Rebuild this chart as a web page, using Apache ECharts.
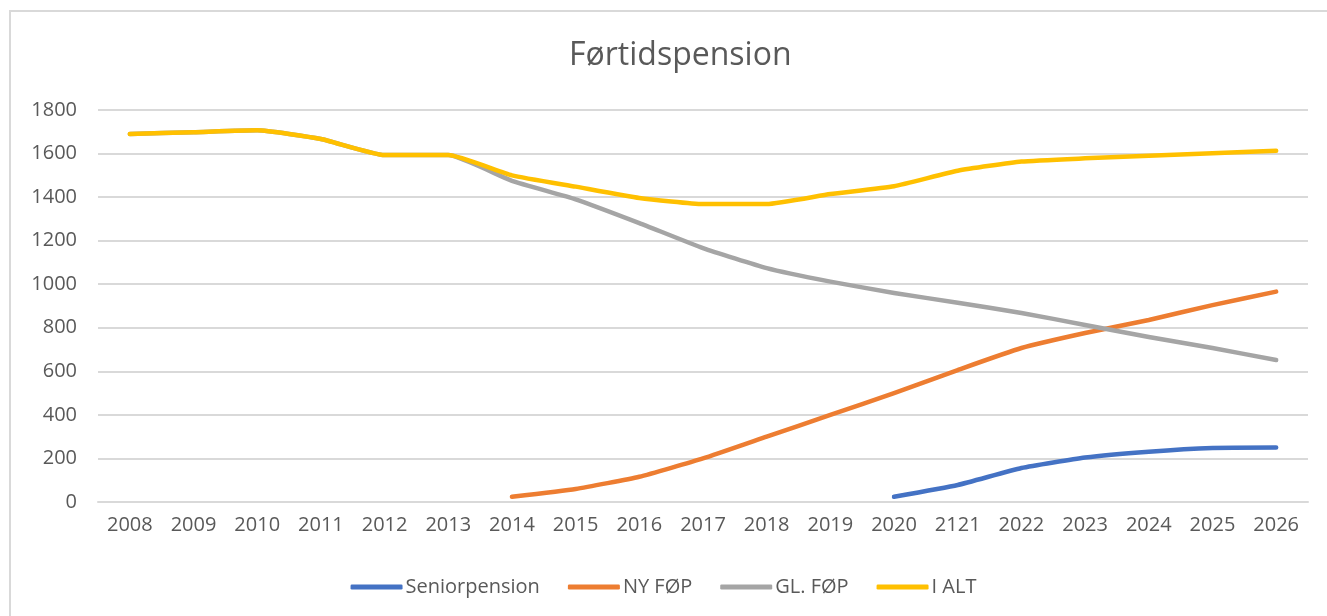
<!DOCTYPE html>
<html>
<head>
<meta charset="utf-8">
<script src="https://cdn.jsdelivr.net/npm/echarts@6/dist/echarts.min.js"></script>
<style>
html,body{margin:0;padding:0;background:#fff;}
#c{width:1327px;height:616px;}
</style>
</head>
<body>
<div id="c"></div>
<script>
const categories = ['2008','2009','2010','2011','2012','2013','2014','2015','2016','2017','2018','2019','2020','2121','2022','2023','2024','2025','2026'];
const seniorpension = [null,null,null,null,null,null,null,null,null,null,null,null,24,78,156,204,231,248,250];
const nyFop = [null,null,null,null,null,null,24,60,116,200,300,400,500,606,707,776,836,904,966];
const glFop = [1690,1698,1707,1667,1593,1593,1475,1390,1281,1166,1074,1012,960,915,868,813,758,707,652];
const iAlt = [1690,1698,1707,1667,1593,1593,1500,1448,1396,1368,1368,1414,1450,1521,1563,1578,1590,1601,1613];
const yTicks = {min:0, max:1800, interval:200};

const FONT = '"Open Sans", sans-serif';
const chart = echarts.init(document.getElementById('c'), null, {renderer:'canvas'});
function line(name, data, color){
  return {name, type:'line', data, showSymbol:false, symbol:'none', smooth:0.15,
    lineStyle:{color, width:4.5, cap:'round', join:'round'}, itemStyle:{color},
    connectNulls:false, animation:false};
}
chart.setOption({
  animation:false,
  backgroundColor:'#fff',
  graphic:[{type:'rect', shape:{x:10,y:11,width:1330,height:620}, style:{fill:'none', stroke:'#d9d9d9', lineWidth:2}, silent:true}],
  title:{text:'Førtidspension', left:564, top:35, textStyle:{fontFamily:FONT, fontSize:32, fontWeight:'normal', color:'#595959'}},
  grid:{left:98, right:19, top:110, bottom:114, containLabel:false},
  legend:{top:572, left:'center', itemWidth:52, itemHeight:5, itemGap:28, icon:'roundRect',
    textStyle:{fontFamily:FONT, fontSize:20, color:'#595959', padding:[0,0,0,-2]},
    data:['Seniorpension','NY FØP','GL. FØP','I ALT']},
  xAxis:{type:'category', data:categories, boundaryGap:true,
    axisLine:{show:true, lineStyle:{color:'#d9d9d9', width:2}}, axisTick:{show:false},
    axisLabel:{fontFamily:FONT, fontSize:20, color:'#595959', margin:13, interval:0}},
  yAxis:{type:'value', min:yTicks.min, max:yTicks.max, interval:yTicks.interval,
    axisLine:{show:false}, axisTick:{show:false},
    splitLine:{lineStyle:{color:'#d9d9d9', width:2}},
    axisLabel:{fontFamily:FONT, fontSize:20, color:'#595959', margin:21, formatter:v=>String(v)}},
  series:[
    line('Seniorpension', seniorpension, '#4472C4'),
    line('NY FØP', nyFop, '#ED7D31'),
    line('GL. FØP', glFop, '#A5A5A5'),
    line('I ALT', iAlt, '#FFC000')
  ]
});
</script>
</body>
</html>
